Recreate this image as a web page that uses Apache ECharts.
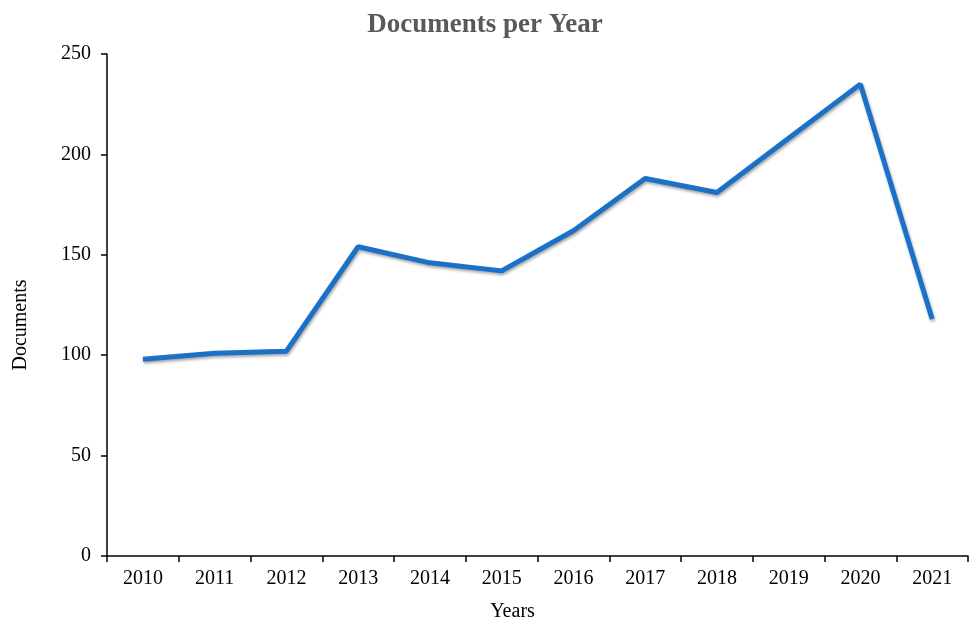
<!DOCTYPE html>
<html>
<head>
<meta charset="utf-8">
<script src="https://cdn.jsdelivr.net/npm/echarts@6/dist/echarts.min.js"></script>
<style>html,body{margin:0;padding:0;background:#fff}#c{width:970px;height:623px}</style>
</head>
<body>
<div id="c"></div>
<script>
const years = ['2010','2011','2012','2013','2014','2015','2016','2017','2018','2019','2020','2021'];
const documents = [98, 101, 102, 154, 146, 142, 162, 188, 181, 208, 235, 118];
const yTicks = [0, 50, 100, 150, 200, 250];

const chart = echarts.init(document.getElementById('c'));
const font = 'Liberation Serif, Times New Roman, serif';
chart.setOption({
  animation: false,
  backgroundColor: '#fff',
  title: {
    text: 'Documents per Year', left: 'center', top: 7,
    textStyle: { fontFamily: font, fontSize: 27, fontWeight: 'bold', color: '#595959' }
  },
  grid: { left: 107, right: 2, top: 54, bottom: 67, outerBoundsMode: 'none', containLabel: false },
  xAxis: {
    type: 'category', data: years, boundaryGap: true,
    name: 'Years', nameLocation: 'middle', nameGap: 46,
    nameTextStyle: { fontFamily: font, fontSize: 20, color: '#000', padding: [0, 50, 0, 0] },
    axisLine: { lineStyle: { color: '#000', width: 1.5 } },
    axisTick: { show: true, alignWithLabel: false, length: 6, lineStyle: { color: '#000', width: 1.5 } },
    axisLabel: { fontFamily: font, fontSize: 20, color: '#000', margin: 13 },
    splitLine: { show: false }
  },
  yAxis: {
    type: 'value', min: yTicks[0], max: yTicks[yTicks.length - 1], interval: 50,
    name: 'Documents', nameLocation: 'middle', nameGap: 76, nameRotate: 90,
    nameTextStyle: { fontFamily: font, fontSize: 20, color: '#000', padding: [0, 40, 0, 0] },
    axisLine: { show: true, lineStyle: { color: '#000', width: 1.5 } },
    axisTick: { show: true, length: 6, lineStyle: { color: '#000', width: 1.5 } },
    axisLabel: { fontFamily: font, fontSize: 20, color: '#000', margin: 16 },
    splitLine: { show: false }
  },
  series: [{
    type: 'line', data: documents, symbol: 'none',
    lineStyle: { color: '#1b70c8', width: 5, shadowColor: 'rgba(0,0,0,0.35)', shadowBlur: 3, shadowOffsetY: 2, shadowOffsetX: 1 }
  }]
});
</script>
</body>
</html>
